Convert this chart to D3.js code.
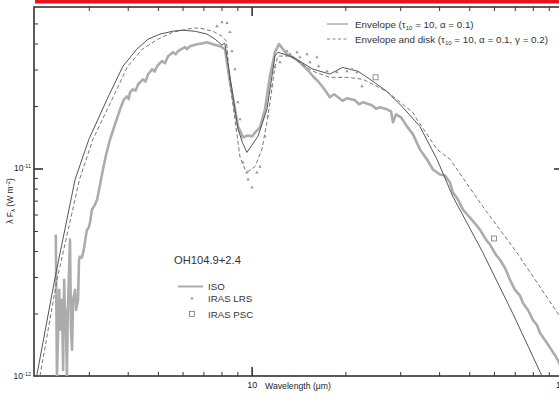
<!DOCTYPE html>
<html>
<head>
<meta charset="utf-8">
<script src="https://cdnjs.cloudflare.com/ajax/libs/d3/7.8.5/d3.min.js"></script>
<style>
  body { margin: 0; background: #fff; }
  svg { display: block; font-family: "Liberation Sans", Arial, Helvetica, sans-serif; }
</style>
</head>
<body>
<svg id="chart" width="559" height="399"></svg>
<script>
// wavelength in micron, flux (lambda F_lambda) in units of 1e-12 W m^-2
const envelope = [
  [2.04, 1.0], [2.34, 3.01], [2.71, 8.85], [3.0, 13.8], [3.43, 21.5], [3.86, 31.1],
  [4.28, 37.6], [4.65, 42.0], [5.08, 44.4], [5.59, 45.9], [6.0, 46.4], [6.6, 45.8],
  [7.19, 44.4], [7.63, 42.0], [8.03, 39.3], [8.2, 40.2], [8.52, 27.8], [8.84, 19.3],
  [9.05, 15.4], [9.35, 13.3], [9.66, 11.95], [10.0, 12.9], [10.48, 14.3], [11.2, 19.3],
  [11.62, 27.8], [11.88, 34.8], [12.15, 36.3], [13.57, 34.4], [15.74, 30.1], [17.84, 28.5],
  [19.6, 30.7], [21.96, 29.4], [24.0, 26.9], [27.2, 23.5], [30.6, 19.7], [34.7, 15.95],
  [39.4, 11.05], [44.3, 7.32], [55.3, 3.93], [69.0, 2.0], [85.6, 1.0]
];

const envelopeDisk = [
  [2.09, 1.0], [2.37, 2.91], [2.8, 8.85], [3.09, 13.8], [3.56, 21.5], [4.0, 31.1],
  [4.46, 37.6], [5.0, 42.0], [5.59, 45.4], [6.48, 47.5], [6.8, 47.5], [7.5, 45.9],
  [8.03, 43.4], [8.3, 41.1], [8.52, 26.0], [8.84, 17.25], [9.17, 11.43], [9.52, 9.89],
  [9.74, 9.67], [10.25, 10.2], [10.79, 12.36], [11.2, 16.7], [11.53, 22.3], [11.88, 31.1],
  [12.15, 34.8], [13.28, 34.8], [15.74, 29.4], [17.84, 27.5], [20.24, 27.5], [22.77, 26.9],
  [27.2, 23.5], [32.97, 18.6], [33.96, 17.25], [39.4, 12.36], [43.4, 11.05], [55.3, 6.55],
  [71.1, 3.93], [96.3, 2.0], [100, 1.86]
];

const iso = [
  [2.35, 4.80], [2.37, 1.0], [2.41, 2.60], [2.42, 1.67], [2.46, 2.33], [2.48, 1.07],
  [2.50, 2.91], [2.52, 1.67], [2.53, 2.08], [2.55, 1.0], [2.57, 2.08], [2.61, 4.54],
  [2.63, 1.67], [2.65, 1.34], [2.67, 2.33], [2.71, 2.60], [2.73, 2.08], [2.77, 2.33],
  [2.79, 3.63], [2.81, 3.76], [2.85, 3.72], [2.89, 4.06], [2.94, 4.80], [2.96, 5.07],
  [3.00, 5.19], [3.03, 5.55], [3.07, 6.34], [3.14, 6.70], [3.19, 7.08], [3.26, 8.37],
  [3.33, 9.89], [3.41, 11.68], [3.51, 13.81], [3.64, 16.32], [3.78, 19.28], [3.89, 21.54],
  [3.98, 22.27], [4.03, 21.6], [4.07, 23.29], [4.16, 24.08], [4.24, 23.7], [4.32, 25.46],
  [4.48, 26.9], [4.56, 26.2], [4.65, 28.46], [4.79, 30.08], [4.88, 29.3], [4.97, 31.1],
  [5.15, 32.88], [5.27, 32.2], [5.39, 34.76], [5.59, 36.34], [5.70, 35.5], [5.80, 36.75],
  [6.11, 38.42], [6.20, 37.6], [6.34, 38.85], [6.68, 39.72], [6.98, 40.17], [7.19, 40.61],
  [7.51, 39.72], [7.91, 38.85], [8.21, 37.6], [8.52, 26.03], [8.84, 19.28], [9.04, 15.95],
  [9.38, 14.12], [9.74, 14.43], [10.03, 14.28], [10.33, 15.09], [10.64, 15.78], [11.04, 19.28],
  [11.45, 27.83], [11.88, 36.34], [12.24, 39.72], [12.61, 37.6], [12.99, 35.54], [13.57, 34.38],
  [14.30, 32.51], [15.06, 30.08], [15.74, 27.83], [16.34, 26.33], [16.94, 24.62], [17.84, 22.03],
  [18.4, 22.8], [18.94, 22.03], [19.6, 21.2], [20.24, 21.8], [21.48, 21.3], [22.1, 20.4],
  [22.78, 20.84], [24.34, 20.16], [25.1, 19.4], [25.83, 19.71], [27.20, 19.28], [28.02, 18.86],
  [28.44, 16.69], [29.08, 18.23], [30.18, 17.64], [31.54, 15.95], [32.98, 14.60], [34.72, 12.36],
  [36.58, 11.05], [38.22, 9.89], [40.26, 9.35], [41.78, 9.25], [43.34, 8.56], [44.32, 7.66],
  [45.98, 7.08], [47.72, 6.34], [50.24, 5.80], [52.54, 5.36], [54.12, 5.07], [56.56, 4.54],
  [58.28, 4.30], [60.90, 3.84], [62.74, 3.63], [65.10, 3.32], [67.56, 2.91], [70.10, 2.60],
  [72.74, 2.44], [74.38, 2.25], [77.18, 2.08], [80.10, 1.86], [82.48, 1.76], [84.34, 1.61],
  [87.50, 1.49], [90.80, 1.37], [94.22, 1.26], [96.34, 1.19], [100, 1.05]
];

const irasLrs = [
  [7.74, 48.5], [8.03, 50.7], [8.33, 50.2], [8.52, 45.4], [8.65, 36.75], [8.84, 30.1],
  [9.04, 20.84], [9.17, 17.25], [9.38, 10.69], [9.66, 9.56], [9.74, 8.85], [10.03, 8.09],
  [10.4, 9.56], [10.64, 10.2], [11.04, 14.28], [11.28, 17.84], [11.62, 24.9], [11.88, 30.7],
  [12.33, 32.51], [12.99, 36.75], [13.28, 35.54], [13.99, 36.34], [14.30, 34.38], [15.06, 35.54],
  [15.39, 32.51], [16.21, 34.38], [16.4, 31.1], [17.46, 29.4], [18.79, 29.1], [20.24, 29.4],
  [21.0, 30.1], [21.79, 29.1], [22.61, 24.9]
];

const irasPsc = [[25, 27.5], [60, 4.6]];

const xMinorTicks = [3, 4, 5, 6, 7, 8, 9, 20, 30, 40, 50, 60, 70, 80, 90];
const xMajorTicks = [10, 100];
const yMinorTicks = [2, 3, 4, 5, 6, 7, 8, 9, 20, 30, 40, 50];
const yMajorTicks = [10];
const yTickLabels = [[1, "-12"], [10, "-11"]];

const svg = d3.select("#chart");
const margin = { left: 34, right: 563, top: 7, bottom: 376 };

const x = d3.scaleLog().domain([2, 100]).range([margin.left, margin.right]);
const y = d3.scaleLog().domain([1, 60]).range([margin.bottom, margin.top]);

// red strip on top
svg.append("rect").attr("x", 35).attr("y", 0).attr("width", 524).attr("height", 3.5).attr("fill", "#e8141b");

svg.append("clipPath").attr("id", "plot-clip")
  .append("rect").attr("x", margin.left).attr("y", margin.top)
  .attr("width", margin.right - margin.left).attr("height", margin.bottom - margin.top);

// ticks on all four sides, pointing inward
function tickGroup(axis, transform, size, vals) {
  const g = svg.append("g").attr("transform", transform)
    .call(axis.tickValues(vals).tickSize(size).tickFormat(""));
  g.select(".domain").remove();
  g.selectAll(".tick line").attr("stroke", "#333").attr("stroke-width", size === -9 ? 1.6 : 1);
  return g;
}
tickGroup(d3.axisBottom(x), `translate(0,${margin.bottom})`, -4, xMinorTicks);
tickGroup(d3.axisTop(x), `translate(0,${margin.top})`, -4, xMinorTicks);
tickGroup(d3.axisTop(x), `translate(0,${margin.top})`, -9, xMajorTicks);
tickGroup(d3.axisLeft(y), `translate(${margin.left},0)`, -4, yMinorTicks);
tickGroup(d3.axisLeft(y), `translate(${margin.left},0)`, -9, yMajorTicks);
tickGroup(d3.axisRight(y), `translate(${margin.right},0)`, -4, yMinorTicks);
tickGroup(d3.axisRight(y), `translate(${margin.right},0)`, -9, yMajorTicks);

const xMajor = svg.append("g").attr("transform", `translate(0,${margin.bottom})`)
  .call(d3.axisBottom(x).tickValues(xMajorTicks).tickSize(-9).tickPadding(6).tickFormat(d3.format("d")));
xMajor.select(".domain").remove();
xMajor.selectAll(".tick line").attr("stroke", "#333").attr("stroke-width", 1.6);
xMajor.selectAll(".tick text").attr("fill", "#222").attr("font-size", 9)
  .attr("font-family", "Liberation Sans, Arial, sans-serif");

// y tick labels 10^-12, 10^-11
const yl = svg.append("g").selectAll("text").data(yTickLabels).join("text")
  .attr("x", margin.left - 3).attr("y", d => y(d[0]) + 3)
  .attr("text-anchor", "end").attr("font-size", 8.5).attr("fill", "#222");
yl.append("tspan").text("10");
yl.append("tspan").attr("font-size", 5.5).attr("dy", -3.5).text(d => d[1]);

// frame
svg.append("rect").attr("x", margin.left).attr("y", margin.top)
  .attr("width", margin.right - margin.left).attr("height", margin.bottom - margin.top)
  .attr("fill", "none").attr("stroke", "#333").attr("stroke-width", 1.6);

// axis titles
svg.append("text").attr("x", 265).attr("y", 389).attr("font-size", 8.7).attr("fill", "#222")
  .text("Wavelength (\u03bcm)");

const yt = svg.append("text").attr("transform", "translate(13,201) rotate(-90)")
  .attr("text-anchor", "middle").attr("font-size", 8.5).attr("fill", "#222");
yt.append("tspan").text("\u03bb F");
yt.append("tspan").attr("font-size", 6).attr("dy", 2).text("\u03bb");
yt.append("tspan").attr("dy", -2).text(" (W m");
yt.append("tspan").attr("font-size", 6).attr("dy", -3).text("-2");
yt.append("tspan").attr("dy", 3).text(")");

// data
const line = d3.line().x(d => x(d[0])).y(d => y(d[1]));
const plot = svg.append("g").attr("clip-path", "url(#plot-clip)");

plot.append("path").datum(iso).attr("d", line)
  .attr("fill", "none").attr("stroke", "#acacac").attr("stroke-width", 2.6).attr("stroke-linejoin", "round");

plot.append("path").datum(envelopeDisk).attr("d", line)
  .attr("fill", "none").attr("stroke", "#666").attr("stroke-width", 0.9).attr("stroke-dasharray", "4,2.5");

plot.append("path").datum(envelope).attr("d", line)
  .attr("fill", "none").attr("stroke", "#555").attr("stroke-width", 1);

const tri = d3.symbol().type(d3.symbolTriangle).size(5);
plot.selectAll(".lrs").data(irasLrs).join("path").attr("class", "lrs")
  .attr("transform", d => `translate(${x(d[0])},${y(d[1])})`)
  .attr("d", tri).attr("fill", "#999");

plot.selectAll(".psc").data(irasPsc).join("rect").attr("class", "psc")
  .attr("x", d => x(d[0]) - 2.5).attr("y", d => y(d[1]) - 2.5).attr("width", 5).attr("height", 5)
  .attr("fill", "#fff").attr("stroke", "#777").attr("stroke-width", 0.8);

// legend, top right
const lg = svg.append("g").attr("font-size", 9.8).attr("fill", "#333");
lg.append("line").attr("x1", 327).attr("x2", 348).attr("y1", 24).attr("y2", 24)
  .attr("stroke", "#888").attr("stroke-width", 1);
lg.append("line").attr("x1", 327).attr("x2", 348).attr("y1", 39).attr("y2", 39)
  .attr("stroke", "#777").attr("stroke-width", 0.9).attr("stroke-dasharray", "3,2.5");
const t1 = lg.append("text").attr("x", 355).attr("y", 27.5);
t1.append("tspan").text("Envelope  (\u03c4");
t1.append("tspan").attr("font-size", 6).attr("dy", 2).text("10");
t1.append("tspan").attr("dy", -2).text(" = 10, \u03b1 = 0.1)");
const t2 = lg.append("text").attr("x", 355).attr("y", 42.5);
t2.append("tspan").text("Envelope and disk  (\u03c4");
t2.append("tspan").attr("font-size", 6).attr("dy", 2).text("10");
t2.append("tspan").attr("dy", -2).text(" = 10, \u03b1 = 0.1, \u03b3 = 0.2)");

// legend, bottom left
const lb = svg.append("g").attr("fill", "#333");
lb.append("text").attr("x", 174).attr("y", 264).attr("font-size", 11.2).text("OH104.9+2.4");
lb.append("line").attr("x1", 178).attr("x2", 203).attr("y1", 286.5).attr("y2", 286.5)
  .attr("stroke", "#acacac").attr("stroke-width", 2);
lb.append("path").attr("transform", "translate(192,298.5)").attr("d", tri).attr("fill", "#999");
lb.append("rect").attr("x", 189.5).attr("y", 311.5).attr("width", 5).attr("height", 5)
  .attr("fill", "#fff").attr("stroke", "#777").attr("stroke-width", 0.8);
lb.append("text").attr("x", 208).attr("y", 290).attr("font-size", 9.7).text("ISO");
lb.append("text").attr("x", 208).attr("y", 302).attr("font-size", 9.7).text("IRAS LRS");
lb.append("text").attr("x", 208).attr("y", 317.5).attr("font-size", 9.7).text("IRAS PSC");
</script>
</body>
</html>
